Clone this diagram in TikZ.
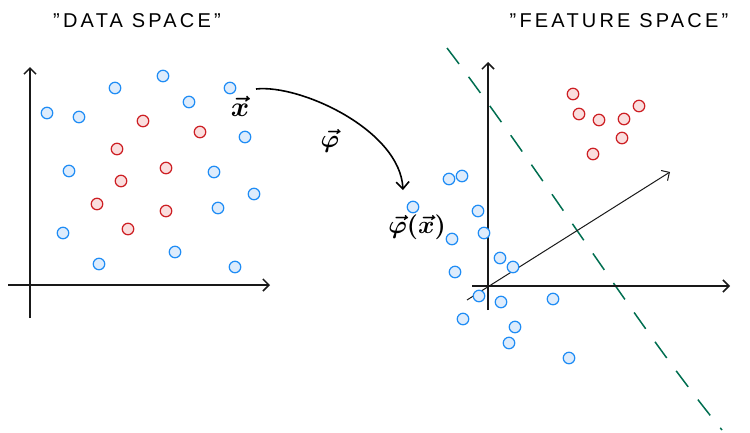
\documentclass[tikz,border=0pt]{standalone}
\usepackage{fontspec}
\setmainfont{Liberation Sans}
\usepackage{tikz}
\usetikzlibrary{arrows.meta, positioning, calc}
\definecolor{DotBlue}{RGB}{30,140,245}
\definecolor{DotBlueFill}{RGB}{222,236,252}
\definecolor{DotRed}{RGB}{205,30,35}
\definecolor{DotRedFill}{RGB}{250,222,222}
\definecolor{SplitGreen}{RGB}{0,110,80}
\newcommand{\biglab}[2][2.5]{\scalebox{#1}{\boldmath$#2$}}
\tikzset{
  dot/.style={circle,inner sep=0pt,minimum size=11.5pt,line width=1.2pt},
  bluedot/.style={dot,draw=DotBlue,fill=DotBlueFill},
  reddot/.style={dot,draw=DotRed,fill=DotRedFill},
  axis/.style={-{Straight Barb[length=6pt,width=12pt]},line width=1.5pt,color=black!90},
  thinaxis/.style={-{Straight Barb[length=6pt,width=12pt]},line width=1pt,color=black!90},
  maparrow/.style={-{Straight Barb[length=7pt,width=13pt]},line width=1.6pt},
  splitline/.style={SplitGreen,line width=1.5pt,dash pattern=on 20pt off 16pt},
  title/.style={font=\fontsize{20}{24}\selectfont\addfontfeature{LetterSpace=16}},
  veclabel/.style={inner sep=1pt}
}
\begin{document}
\begin{tikzpicture}[x=1pt,y=-1pt]
  \useasboundingbox (0,0) rectangle (750,432);
  % titles
  \node[title] (datatitle) at (137,21) {"DATA SPACE"};
  \node[title] (feattitle) at (619,21) {"FEATURE SPACE"};
  % data space axes
  \coordinate (dxl) at (8,285);  \coordinate (dxr) at (270,285);
  \coordinate (dyb) at (30,318); \coordinate (dyt) at (30,67);
  \draw[axis] (dxl) -- (dxr);
  \draw[axis] (dyb) -- (dyt);
  % data space points
  \foreach \x/\y [count=\i] in {47/113,79/117,115/88,163/76,189/102,230/88,245/137,
      69/171,214/172,254/194,218/208,63/233,175/252,99/264,235/267}
    \node[bluedot] (db\i) at (\x,\y) {};
  \foreach \x/\y [count=\i] in {143/121,200/132,117/149,166/168,121/181,97/204,166/211,128/229}
    \node[reddot] (dr\i) at (\x,\y) {};
  % feature map
  \node[veclabel] (xlab) at (240,106) {\biglab[2.8]{\vec{x}}};
  \node[veclabel] (philab) at (330,141) {\biglab{\vec{\varphi}}};
  \node[veclabel] (phixlab) at (417,227) {\biglab{\vec{\varphi}(\vec{x})}};
  \node[bluedot] (fx) at (413,207) {};
  \coordinate (mapstart) at (256,89);
  \coordinate (mapend) at (403,190);
  \draw[maparrow] (mapstart) .. controls (300,84) and (400,130) .. (mapend);
  % separating hyperplane
  \coordinate (splittop) at (447,48);
  \coordinate (splitbot) at (722,430);
  \draw[splitline] (splittop) .. controls (540,170) and (640,330) .. (splitbot);
  % feature space axes
  \coordinate (fxl) at (472,286); \coordinate (fxr) at (730,286);
  \coordinate (fyb) at (488,310); \coordinate (fyt) at (488,62);
  \coordinate (fzb) at (467,300); \coordinate (fzt) at (670,172);
  \draw[axis] (fxl) -- (fxr);
  \draw[axis] (fyb) -- (fyt);
  \draw[thinaxis] (fzb) -- (fzt);
  % feature space points
  \foreach \x/\y [count=\i] in {449/179,462/176,478/211,452/239,484/233,500/258,513/267,
      455/272,479/296,501/302,553/299,463/319,515/327,509/343,569/358}
    \node[bluedot] (fb\i) at (\x,\y) {};
  \foreach \x/\y [count=\i] in {573/94,579/114,599/120,624/119,639/106,622/138,593/154}
    \node[reddot] (fr\i) at (\x,\y) {};
\end{tikzpicture}
\end{document}
